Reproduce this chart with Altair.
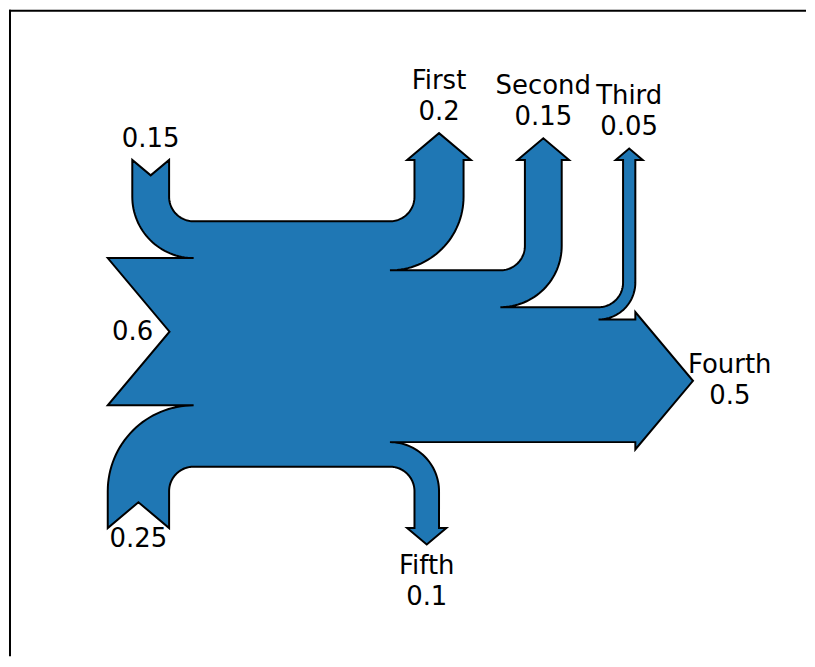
import numpy as np
import pandas as pd
import altair as alt

# ---- data (matplotlib Sankey default example) ----
flows = [0.25, 0.15, 0.60, -0.20, -0.15, -0.05, -0.50, -0.10]
labels = ['', '', '', 'First', 'Second', 'Third', 'Fourth', 'Fifth']
orientations = [-1, 1, 0, 1, 1, 1, 0, -1]

# ---- Sankey geometry (port of matplotlib.sankey defaults) ----
GAP, RADIUS, SHOULDER, OFFSET, HEAD_ANGLE = 0.25, 0.1, 0.03, 0.15, 100
TRUNK, PATHLEN, TOL = 1.0, 0.25, 1e-6
PITCH = np.tan(np.pi * (1 - HEAD_ANGLE / 180.0) / 2.0)
RIGHT, UP, DOWN = 0, 1, 3
M, L, C = 'M', 'L', 'C'

ARC = np.array([[1.0, 0.0], [1.0, 0.265114773], [0.894571235, 0.519642327],
                [0.707106781, 0.707106781], [0.519642327, 0.894571235],
                [0.265114773, 1.0], [0.0, 1.0]])
ARC_CODES = [L, C, C, C, C, C, C]


def arc(quadrant, cw, radius, center):
    if quadrant in (0, 2):
        v = ARC if cw else ARC[:, ::-1]
    else:
        v = (np.column_stack((-ARC[:, 1], ARC[:, 0])) if cw
             else np.column_stack((-ARC[:, 0], ARC[:, 1])))
    if quadrant > 1:
        radius = -radius
    pts = radius * v + np.array(center)
    return list(zip(ARC_CODES, pts.tolist()))


def add_input(path, angle, flow, length):
    x, y = path[-1][1]
    dipdepth = (flow / 2) * PITCH
    if angle == RIGHT:
        x -= length
        dip = [x + dipdepth, y + flow / 2.0]
        path.extend([(L, [x, y]), (L, dip), (L, [x, y + flow]),
                     (L, [x + GAP, y + flow])])
        loc = [dip[0] - OFFSET, dip[1]]
    else:
        x -= GAP
        sign = 1 if angle == UP else -1
        dip = [x - flow / 2, y - sign * (length - dipdepth)]
        quadrant = 2 if angle == DOWN else 1
        path.extend(arc(quadrant, angle == UP, RADIUS,
                        (x + RADIUS, y - sign * RADIUS)))
        path.extend([(L, [x, y - sign * length]), (L, dip),
                     (L, [x - flow, y - sign * length])])
        path.extend(arc(quadrant, angle == DOWN, flow + RADIUS,
                        (x + RADIUS, y - sign * RADIUS)))
        path.append((L, [x - flow, y + sign * flow]))
        loc = [dip[0], dip[1] - sign * OFFSET]
    return dip, loc


def add_output(path, angle, flow, length):
    x, y = path[-1][1]
    tipheight = (SHOULDER - flow / 2) * PITCH
    if angle == RIGHT:
        x += length
        tip = [x + tipheight, y + flow / 2.0]
        path.extend([(L, [x, y]), (L, [x, y + SHOULDER]), (L, tip),
                     (L, [x, y - SHOULDER + flow]), (L, [x, y + flow]),
                     (L, [x - GAP, y + flow])])
        loc = [tip[0] + OFFSET, tip[1]]
    else:
        x += GAP
        sign, quadrant = (1, 3) if angle == UP else (-1, 0)
        tip = [x - flow / 2.0, y + sign * (length + tipheight)]
        path.extend(arc(quadrant, angle == UP, RADIUS,
                        (x - RADIUS, y + sign * RADIUS)))
        path.extend([(L, [x, y + sign * length]),
                     (L, [x - SHOULDER, y + sign * length]), (L, tip),
                     (L, [x + SHOULDER - flow, y + sign * length]),
                     (L, [x - flow, y + sign * length])])
        path.extend(arc(quadrant, angle == DOWN, RADIUS - flow,
                        (x - RADIUS, y + sign * RADIUS)))
        path.append((L, [x - flow, y + sign * flow]))
        loc = [tip[0], tip[1] + sign * OFFSET]
    return tip, loc


def revert(path, first=L):
    out, nxt = [], first
    for code, pos in path[::-1]:
        out.append((nxt, pos))
        nxt = code
    return out


def flatten(path, n=16):
    pts, i = [], 0
    while i < len(path):
        code, p = path[i]
        if (code == C and i + 2 < len(path) and path[i + 1][0] == C
                and path[i + 2][0] == C and pts):
            p0 = np.array(pts[-1])
            p1, p2, p3 = (np.array(path[i + k][1]) for k in range(3))
            for t in np.linspace(0, 1, n + 1)[1:]:
                q = ((1 - t) ** 3 * p0 + 3 * (1 - t) ** 2 * t * p1
                     + 3 * (1 - t) * t ** 2 * p2 + t ** 3 * p3)
                pts.append([float(q[0]), float(q[1])])
            i += 3
        else:
            pts.append([float(p[0]), float(p[1])])
            i += 1
    return pts


n = len(flows)
are_inputs = [True if f >= TOL else (False if f <= -TOL else None) for f in flows]
angles = [None] * n
for i, (o, inp) in enumerate(zip(orientations, are_inputs)):
    if o == 1:
        angles[i] = DOWN if inp else (UP if inp is False else None)
    elif o == 0:
        angles[i] = RIGHT if inp is not None else None
    else:
        angles[i] = UP if inp else (DOWN if inp is False else None)

gain = sum(max(f, 0) for f in flows)
loss = sum(min(f, 0) for f in flows)

pathlengths = [0.0] * n
ul = ur = ll = lr = PATHLEN
for i in range(n):
    if angles[i] == DOWN and are_inputs[i]:
        pathlengths[i] = ul; ul += flows[i]
    elif angles[i] == UP and are_inputs[i] is False:
        pathlengths[i] = ur; ur -= flows[i]
for i in reversed(range(n)):
    if angles[i] == UP and are_inputs[i]:
        pathlengths[i] = ll; ll += flows[i]
    elif angles[i] == DOWN and are_inputs[i] is False:
        pathlengths[i] = lr; lr -= flows[i]

h = TRUNK / 2.0 - GAP
urpath = [(M, [-h, gain / 2]), (L, [-h / 2, gain / 2]), (C, [-h / 8, gain / 2]),
          (C, [h / 8, -loss / 2]), (L, [h / 2, -loss / 2]), (L, [h, -loss / 2])]
llpath = [(L, [h, loss / 2]), (L, [h / 2, loss / 2]), (C, [h / 8, loss / 2]),
          (C, [-h / 8, -gain / 2]), (L, [-h / 2, -gain / 2]), (L, [-h, -gain / 2])]
lrpath = [(L, [h, loss / 2])]
ulpath = [(L, [-h, gain / 2])]

label_locs = [[0.0, 0.0]] * n
for i in range(n):
    if angles[i] == DOWN and are_inputs[i]:
        _, label_locs[i] = add_input(ulpath, angles[i], flows[i], pathlengths[i])
    elif angles[i] == UP and are_inputs[i] is False:
        _, label_locs[i] = add_output(urpath, angles[i], flows[i], pathlengths[i])
for i in reversed(range(n)):
    if angles[i] == UP and are_inputs[i]:
        _, label_locs[i] = add_input(llpath, angles[i], flows[i], pathlengths[i])
    elif angles[i] == DOWN and are_inputs[i] is False:
        _, label_locs[i] = add_output(lrpath, angles[i], flows[i], pathlengths[i])
has_left = False
for i in reversed(range(n)):
    if angles[i] == RIGHT and are_inputs[i]:
        if not has_left:
            if llpath[-1][1][0] > ulpath[-1][1][0]:
                llpath.append((L, [ulpath[-1][1][0], llpath[-1][1][1]]))
            has_left = True
        _, label_locs[i] = add_input(llpath, angles[i], flows[i], pathlengths[i])
has_right = False
for i in range(n):
    if angles[i] == RIGHT and are_inputs[i] is False:
        if not has_right:
            if urpath[-1][1][0] < lrpath[-1][1][0]:
                urpath.append((L, [lrpath[-1][1][0], urpath[-1][1][1]]))
            has_right = True
        _, label_locs[i] = add_output(urpath, angles[i], flows[i], pathlengths[i])
if not has_left:
    ulpath.pop(); llpath.pop()
if not has_right:
    lrpath.pop(); urpath.pop()

full = urpath + revert(lrpath) + llpath + revert(ulpath)
ring = flatten(full)
ring.append(ring[0])

texts = []
for lab, f in zip(labels, flows):
    q = '%G' % abs(f)
    texts.append(lab + '\n' + q if lab else q)

label_df = pd.DataFrame({
    'lon': [p[0] for p in label_locs],
    'lat': [p[1] for p in label_locs],
    'text': texts,
    'lines': [t.count('\n') + 1 for t in texts],
})

shape_data = alt.Data(values=[{
    'type': 'Feature', 'properties': {},
    'geometry': {'type': 'Polygon', 'coordinates': [ring]},
}])

W, H = 799, 648
FS, LH = 26, 31
PROJ = dict(type='identity', reflectY=True, scale=246, translate=[283.5, 335])

shape = alt.Chart(shape_data).mark_geoshape(
    fill='#1f77b4', stroke='black', strokeWidth=2, strokeJoin='miter'
).project(**PROJ)

text_base = alt.Chart(label_df).encode(
    longitude='lon:Q', latitude='lat:Q', text='text:N')
text1 = text_base.transform_filter('datum.lines == 1').mark_text(
    font='DejaVu Sans', fontSize=FS, lineHeight=LH, lineBreak='\n',
    align='center', baseline='middle', color='black'
).project(**PROJ)
text2 = text_base.transform_filter('datum.lines == 2').mark_text(
    font='DejaVu Sans', fontSize=FS, lineHeight=LH, lineBreak='\n',
    align='center', baseline='middle', color='black', dy=-LH / 2
).project(**PROJ)

frame_df = pd.DataFrame({'k': [0]})
left = alt.Chart(frame_df).mark_rule(color='black', strokeWidth=2).encode(
    x=alt.value(1), y=alt.value(0), y2=alt.value(H))
top = alt.Chart(frame_df).mark_rule(color='black', strokeWidth=2).encode(
    x=alt.value(0), x2=alt.value(W), y=alt.value(1))

chart = alt.layer(shape, text1, text2, left, top).properties(
    width=W, height=H, padding=0
).configure_view(stroke=None)

chart.save("out.html", embed_options={"renderer": "svg", "actions": False})
